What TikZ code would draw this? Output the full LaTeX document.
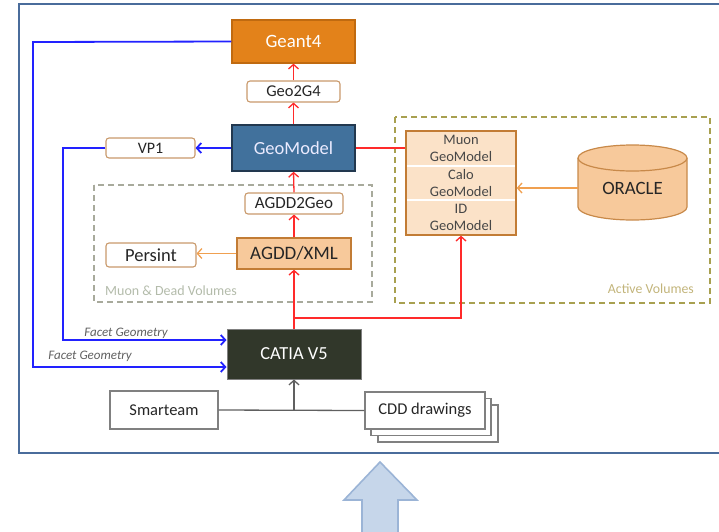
\documentclass[tikz,border=0pt]{standalone}
\usepackage{fontspec}
\setmainfont{Carlito}
\usetikzlibrary{arrows.meta}
\definecolor{framec}{HTML}{4A6C9B}
\definecolor{geantf}{HTML}{E3821A}
\definecolor{geantd}{HTML}{C06A10}
\definecolor{geomf}{HTML}{41719C}
\definecolor{geomd}{HTML}{22384F}
\definecolor{catiaf}{HTML}{31372A}
\definecolor{tanc}{HTML}{C9996B}
\definecolor{xmlf}{HTML}{F7C99B}
\definecolor{orb}{HTML}{C27C35}
\definecolor{multif}{HTML}{FBE2C8}
\definecolor{orarr}{HTML}{F0A050}
\definecolor{bluel}{HTML}{2222FF}
\definecolor{redl}{HTML}{FF2A2A}
\definecolor{grayl}{HTML}{606060}
\definecolor{dashg}{HTML}{A8AA9C}
\definecolor{dashgt}{HTML}{B3BBAA}
\definecolor{dasho}{HTML}{A8A050}
\definecolor{dashot}{HTML}{C2B47A}
\definecolor{bigf}{HTML}{C6D6EA}
\definecolor{bigd}{HTML}{9BB4D6}
\definecolor{txt}{HTML}{262626}
\tikzset{
  tip/.style={-{Straight Barb[length=4.5pt,width=10pt]}},
  rbox/.style={draw=tanc, fill=white, rounded corners=3pt, line width=1.1pt, inner sep=0pt, text=txt},
  sqbox/.style={draw=grayl!80, fill=white, line width=1.1pt, inner sep=0pt, text=txt, font=\fontsize{16.5}{18}\selectfont},
  redarrow/.style={draw=redl, line width=1.3pt, tip},
  bluearrow/.style={draw=bluel, line width=1.8pt, tip},
  orarrow/.style={draw=orarr, line width=1.3pt, tip},
  facet/.style={text=grayl, font=\fontsize{13}{14}\itshape\selectfont, inner sep=0pt},
  sect/.style={align=center, text=txt!85, inner sep=0pt, font=\fontsize{14.5}{16.7}\selectfont},
}
\begin{document}
\begin{tikzpicture}[x=1pt,y=1pt,yscale=-1]
\useasboundingbox (0,0) rectangle (719,531);
\clip (0,0) rectangle (719,531);
% outer frame
\draw[framec, line width=2pt] (19,4) rectangle (730,453);
% big arrow
\draw[bigd, fill=bigf, line width=1.6pt] (380,462) -- (417,500) -- (398,500) -- (398,540) -- (362,540) -- (362,500) -- (344,500) -- cycle;
% dashed groups
\draw[dashg, line width=1.2pt, dash pattern=on 6pt off 4pt] (94,185) rectangle (372,302);
\node[anchor=west, text=dashgt, inner sep=0pt, font=\fontsize{14}{15}\selectfont] (mdlabel) at (105,291) {Muon \& Dead Volumes};
\draw[dasho, line width=1.2pt, dash pattern=on 6pt off 4pt] (395,117) rectangle (710,303);
\node[anchor=east, text=dashot, inner sep=0pt, font=\fontsize{13.8}{14}\selectfont] (avlabel) at (694,289) {Active Volumes};
% main nodes
\node[draw=geantd, fill=geantf, line width=1.2pt, minimum width=123, minimum height=43, inner sep=0pt, text=white, font=\fontsize{18.8}{20}\selectfont] (geant) at (293.5,41.5) {Geant4};
\node[rbox, minimum width=93, minimum height=21, font=\fontsize{16.5}{18}\selectfont] (geog4) at (293.5,91.5) {Geo2G4};
\node[draw=geomd, fill=geomf, line width=1.6pt, minimum width=123, minimum height=46, inner sep=0pt, text=white!92!blue, font=\fontsize{18.5}{20}\selectfont] (geom) at (293.5,148) {GeoModel};
\node[rbox, minimum width=89, minimum height=20, font=\fontsize{16}{18}\selectfont] (vp) at (150.5,148) {VP1};
\node[rbox, minimum width=98, minimum height=21, font=\fontsize{17}{18}\selectfont] (agddgeo) at (294,203.5) {AGDD2Geo};
\node[draw=orb, fill=xmlf, line width=1.3pt, minimum width=114, minimum height=31, inner sep=0pt, text=txt, font=\fontsize{19}{20}\selectfont] (xml) at (294,253.5) {AGDD/XML};
\node[rbox, minimum width=90, minimum height=24, font=\fontsize{18.5}{20}\selectfont] (persint) at (151,255) {Persint};
\node[draw=gray, fill=catiaf, line width=1pt, minimum width=134, minimum height=50, inner sep=0pt, text=white, font=\fontsize{18.4}{20}\selectfont] (catia) at (294,354) {CATIA V5};
\node[sqbox, minimum width=108, minimum height=38] (smart) at (164,410) {Smarteam};
\draw[grayl!80, fill=white, line width=1.1pt] (378,405) rectangle (498,442);
\draw[grayl!80, fill=white, line width=1.1pt] (371,398.5) rectangle (491,435.5);
\node[sqbox, minimum width=120, minimum height=37] (cdd) at (425,410.5) {CDD drawings};
% multi geomodel box
\node[draw=orb, fill=multif, line width=1.3pt, minimum width=110, minimum height=104, inner sep=0pt] (gbox) at (461,183) {};
\draw[white, line width=1.5pt] (407,166) -- (515,166) (407,200) -- (515,200);
\node[sect] (muon) at (461,148.5) {Muon\\GeoModel};
\node[sect] (calo) at (461,183) {Calo\\GeoModel};
\node[sect] (idg) at (461,217.5) {ID\\GeoModel};
% ORACLE cylinder
\draw[orb!90, fill=xmlf, line width=1.2pt] (578,158) -- (578,207) arc[start angle=180, end angle=0, x radius=54.5pt, y radius=13pt] -- (687,158);
\draw[orb!90, fill=xmlf, line width=1.2pt] (632.5,158) ellipse[x radius=54.5pt, y radius=13pt];
\node[inner sep=0pt, minimum width=109, minimum height=75, text=txt, font=\fontsize{18.8}{20}\selectfont] (oracle) at (632.5,188) {ORACLE};
% named coordinates
\coordinate (bl1) at (63,148);
\coordinate (bl1b) at (63,340);
\coordinate (bl2) at (33,42);
\coordinate (bl2b) at (33,367);
\coordinate (rj) at (294,318);
\coordinate (rk) at (461,318);
% red connectors
\draw[redarrow] (catia.north) -- (xml.south);
\draw[redarrow] (xml.north) -- (agddgeo.south);
\draw[redarrow] (agddgeo.north) -- (geom.south);
\draw[redarrow] (geom.north) -- (geog4.south);
\draw[redarrow] (geog4.north) -- (geant.south);
\draw[redarrow] (rj) -- (rk) -- (gbox.south);
\draw[draw=redl, line width=1.3pt] (geom.east) -- (gbox.west |- geom.east);
% orange connectors
\draw[orarrow] (xml.west) -- (persint.east |- xml.west);
\draw[orarrow] (oracle.west) -- (gbox.east |- oracle.west);
% blue connectors
\draw[bluearrow] (geom.west) -- (vp.east);
\draw[bluearrow] (vp.west) -- (bl1) -- (bl1b) -- (catia.west |- bl1b);
\draw[bluearrow] (geant.west) -- (bl2) -- (bl2b) -- (catia.west |- bl2b);
\node[facet] (f1) at (126,333) {Facet Geometry};
\node[facet] (f2) at (90,356) {Facet Geometry};
% gray connectors
\draw[grayl, line width=1.3pt] (smart.east) -- (cdd.west);
\draw[grayl, line width=1.3pt, tip] (catia.south |- smart.east) -- (catia.south);
\end{tikzpicture}
\end{document}
